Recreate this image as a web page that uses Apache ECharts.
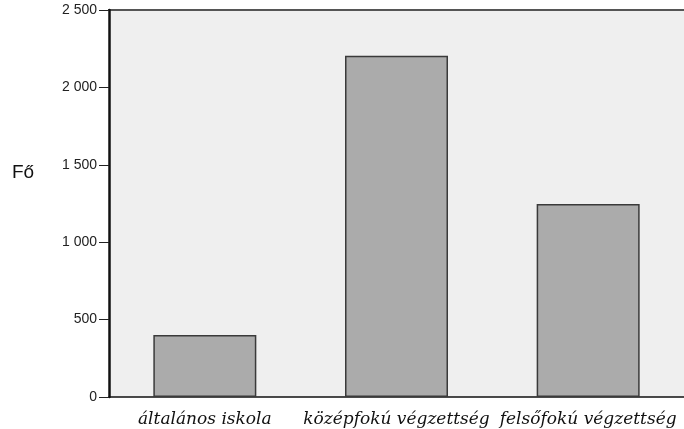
<!DOCTYPE html>
<html>
<head>
<meta charset="utf-8">
<script src="https://cdn.jsdelivr.net/npm/echarts@6/dist/echarts.min.js"></script>
<style>
    html, body { margin: 0; padding: 0; background: #fff; }
    #chart { width: 684px; height: 429px; }
</style>
</head>
<body>
<div id="chart"></div>
<script>
    // adatok
    var categories = ['általános iskola', 'középfokú végzettség', 'felsőfokú végzettség'];
    var values = [400, 2205, 1247];
    var yTicks = [0, 500, 1000, 1500, 2000, 2500];

    function fmt(v) {
        // ezres elválasztó: szóköz
        return String(v).replace(/\B(?=(\d{3})+(?!\d))/g, ' ');
    }

    var chart = echarts.init(document.getElementById('chart'));
    chart.setOption({
        animation: false,
        grid: {
            left: 109,
            right: -5,
            top: 10,
            bottom: 32,
            show: true,
            backgroundColor: '#efefef',
            borderWidth: 0
        },
        graphic: [
            {
                type: 'text',
                left: 12,
                top: 163,
                style: { text: 'Fő', font: '19px "Liberation Sans", Arial, sans-serif', fill: '#111' }
            },
            {
                // felső keretvonal
                type: 'line',
                shape: { x1: 108, y1: 10, x2: 684, y2: 10 },
                style: { stroke: '#555', lineWidth: 2 }
            }
        ],
        xAxis: {
            type: 'category',
            data: categories,
            axisLine: { lineStyle: { color: '#111', width: 1.5 } },
            axisTick: { alignWithLabel: true, length: 8, lineStyle: { color: '#222' } },
            axisLabel: {
                interval: 0,
                margin: 14,
                color: '#111',
                fontSize: 17,
                fontStyle: 'italic',
                fontFamily: '"DejaVu Serif", "Liberation Serif", serif'
            }
        },
        yAxis: {
            type: 'value',
            min: yTicks[0],
            max: yTicks[yTicks.length - 1],
            interval: 500,
            axisLine: { show: true, lineStyle: { color: '#111', width: 2.5 } },
            axisTick: { show: true, length: 10, lineStyle: { color: '#222' } },
            splitLine: { show: false },
            axisLabel: {
                margin: 12,
                color: '#222',
                fontSize: 14,
                fontFamily: '"Liberation Sans", Arial, sans-serif',
                formatter: fmt
            }
        },
        series: [{
            type: 'bar',
            data: values,
            barWidth: 103,
            itemStyle: {
                color: '#ababab',
                borderColor: '#3a3a3a',
                borderWidth: 1.5
            }
        }]
    });
</script>
</body>
</html>
